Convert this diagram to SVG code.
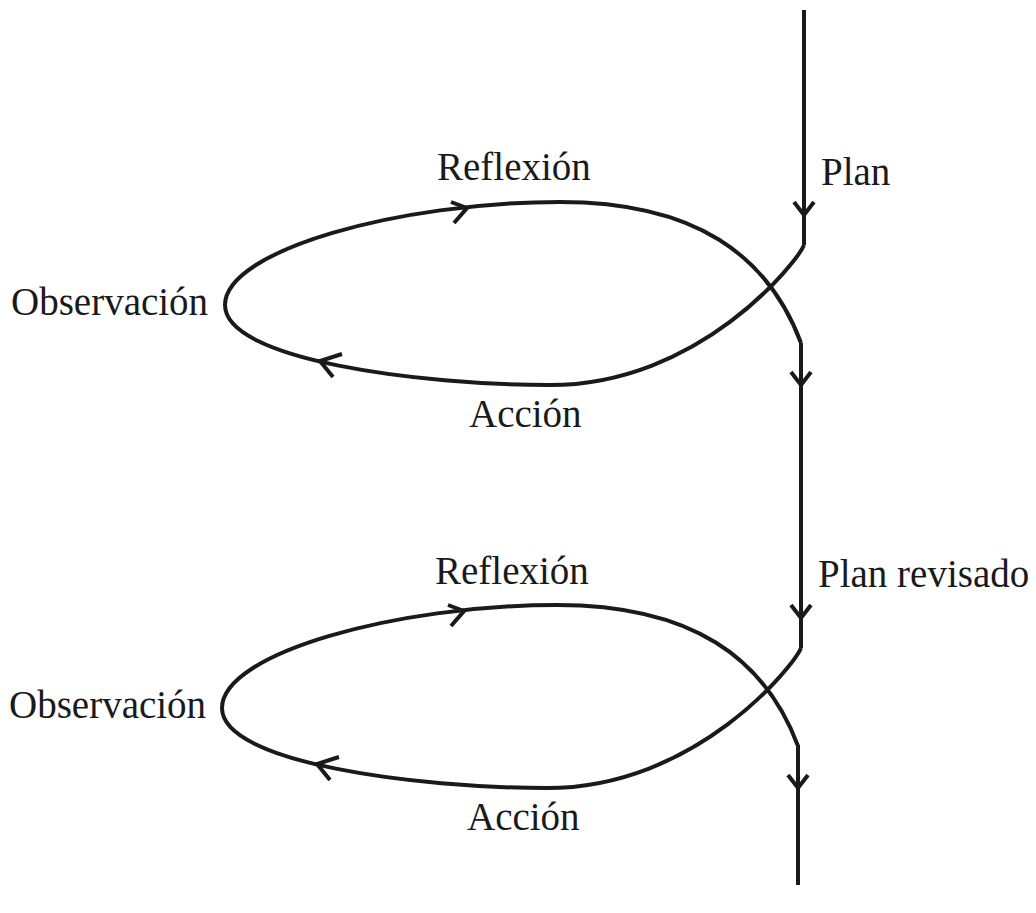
<svg xmlns="http://www.w3.org/2000/svg" width="1036" height="913" viewBox="0 0 1036 913">
<style>
.ln{fill:none;stroke:#1a1a1a;stroke-width:4;stroke-linejoin:miter}
.lb{font-family:"Liberation Serif","Times New Roman",serif;font-size:39px;fill:#1a1a1a}
</style>
<rect width="1036" height="913" fill="#fff"/>
<g id="connectors">
  <polyline class="ln" points="804,10 804,245"/>
  <polyline class="ln" points="801,343 801,648"/>
  <polyline class="ln" points="798,745 798,885"/>
  <polyline class="ln" points="794,202 804,215 814,202"/>
  <polyline class="ln" points="791,372 801,385 811,372"/>
  <polyline class="ln" points="791,605 801,618 811,605"/>
  <polyline class="ln" points="788,775 798,788 808,775"/>
  <g id="loop1">
    <path class="ln" d="M804,245 C797,262 700,385 550,385 C420,385 225,360 225,305 C225,250 400,202 560,202 C695,202 768,255 801,343"/>
    <polyline class="ln" points="451,202 467,208 454,223"/>
    <polyline class="ln" points="342,354 320,361 333,377"/>
  </g>
  <g id="loop2" transform="translate(-3,403)">
    <path class="ln" d="M804,245 C797,262 700,385 550,385 C420,385 225,360 225,305 C225,250 400,202 560,202 C695,202 768,255 801,343"/>
    <polyline class="ln" points="451,202 467,208 454,223"/>
    <polyline class="ln" points="342,354 320,361 333,377"/>
  </g>
</g>
<g id="plan"><text class="lb" x="821" y="185">Plan</text></g>
<g id="reflexion1"><text class="lb" x="437" y="180">Reflexión</text></g>
<g id="observacion1"><text class="lb" x="11" y="315">Observación</text></g>
<g id="accion1"><text class="lb" x="469" y="427">Acción</text></g>
<g id="plan-revisado"><text class="lb" x="818" y="587">Plan revisado</text></g>
<g id="reflexion2"><text class="lb" x="435" y="584">Reflexión</text></g>
<g id="observacion2"><text class="lb" x="9" y="718">Observación</text></g>
<g id="accion2"><text class="lb" x="467" y="830">Acción</text></g>
</svg>
